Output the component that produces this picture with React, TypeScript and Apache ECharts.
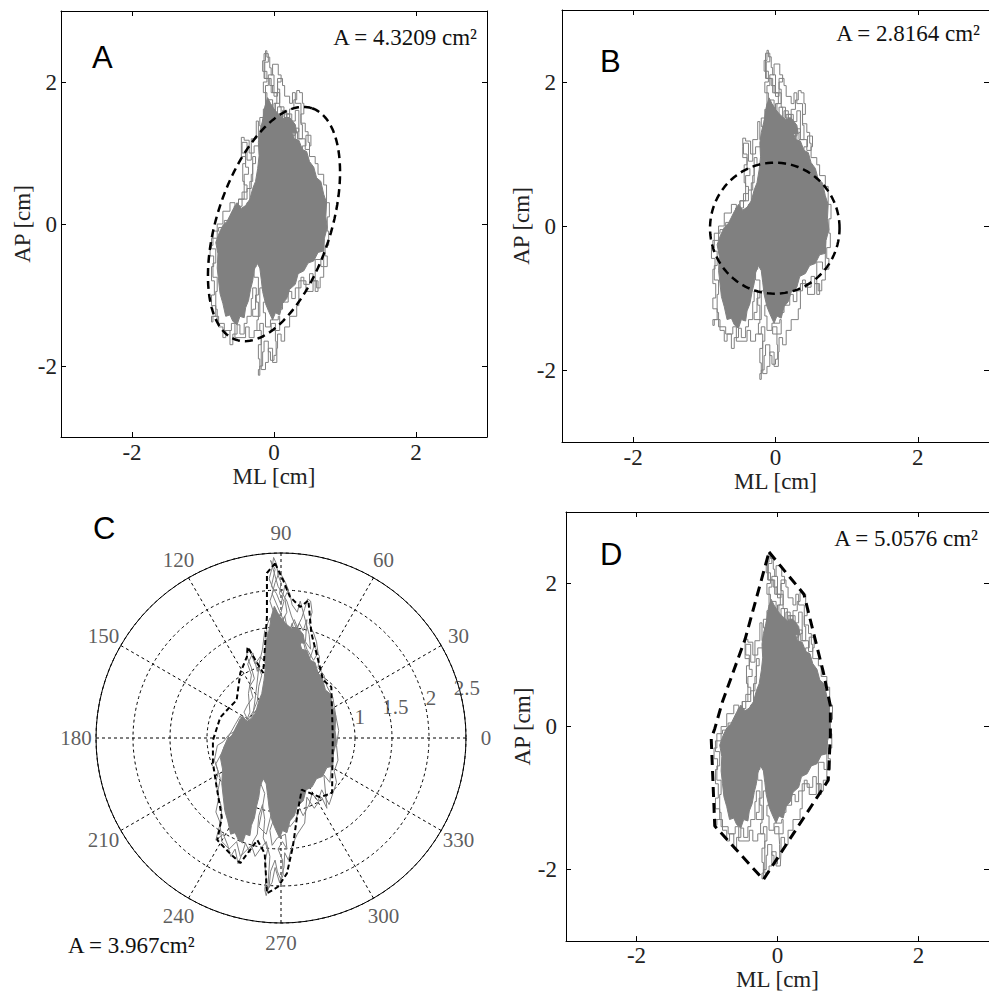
import React, { useEffect, useRef } from 'react';
import * as echarts from 'echarts';

// ---------- data ----------
const tickValues = [-2, 0, 2];
const axisMin = -3;
const axisMax = 3;

// Center-of-pressure trace (ML, AP) in cm
const traceML = [
  0.10, 0.00, -0.05, -0.12, -0.10, -0.15, -0.10, -0.16, -0.12, -0.10, -0.06, -0.04, 0.00, -0.02, 0.04, 0.00, -0.05, -0.15, -0.20, -0.18, -0.10, -0.05, 0.02, 0.08, 0.05, 0.10, 0.06, -0.02, -0.08, -0.12,
  0.05, 0.12, 0.18, 0.22, 0.28, 0.32, 0.36, 0.40, 0.42, 0.38, 0.44, 0.48, 0.50, 0.44, 0.35, 0.30, 0.25, 0.20,
  -0.20, -0.28, -0.35, -0.42, -0.46, -0.46, -0.40, -0.36, -0.42, -0.38, -0.45, -0.50, -0.45, -0.38, -0.32, -0.30, -0.26, -0.30, -0.34, -0.38, -0.48, -0.56, -0.60, -0.70, -0.78, -0.86, -0.90, -0.85,
  -0.88, -0.84, -0.88, -0.82, -0.86, -0.88, -0.78, -0.72, -0.68, -0.62, -0.58, -0.52, -0.48, -0.42, -0.38, -0.32, -0.30, -0.25,
  -0.22, -0.24, -0.18, -0.22, -0.20, -0.22, -0.20, -0.16, -0.14, -0.08, -0.05, 0.00, 0.03, 0.02, -0.04, 0.02, 0.08, 0.06, -0.05, -0.12, -0.15, -0.10,
  0.05, 0.12, 0.20, 0.25, 0.30, 0.38, 0.42, 0.50, 0.55, 0.60, 0.65, 0.70, 0.75, 0.72, 0.77, 0.75, 0.78, 0.74, 0.70, 0.62, 0.58, 0.50, 0.52, 0.45, 0.40,
  0.10, -0.10, -0.25, -0.28, -0.22, -0.26, -0.30, -0.20, -0.10, 0.00, 0.20, 0.40,
  0.30, 0.22, 0.15, 0.10, 0.05, -0.02, -0.08, -0.14, -0.10, -0.16, -0.06, 0.02, 0.12, 0.18, 0.25, 0.30, 0.35, 0.33, 0.40, 0.38, 0.30, 0.26, 0.22, 0.15, 0.12, 0.05, 0.00, -0.06, -0.13, -0.08, -0.14, -0.04, 0.08, 0.14, 0.20, 0.28, 0.35,
  0.55, 0.65, 0.70, 0.66, 0.58, 0.62, 0.55, 0.45, 0.35, 0.32, 0.22, 0.15, 0.10, 0.05, 0.04, -0.02, -0.08, -0.12, -0.18, -0.15, -0.20, -0.28, -0.35, -0.40, -0.55, -0.60, -0.70, -0.80,
  -0.82, -0.80, -0.86, -0.82, -0.88, -0.80, -0.72, -0.62, -0.55, -0.50, -0.42, -0.44, -0.40, -0.45, -0.38, -0.32, -0.25, -0.22, -0.18,
];
const traceAP = [
  0.30, 0.90, 1.30, 1.50, 1.70, 1.85, 2.00, 2.15, 2.30, 2.44, 2.35, 2.20, 2.10, 1.95, 1.85, 1.70, 1.60, 1.62, 1.50, 1.38, 1.30, 1.45, 1.58, 1.70, 1.90, 2.00, 2.10, 2.25, 2.10, 1.95,
  1.55, 1.45, 1.60, 1.50, 1.62, 1.75, 1.88, 1.85, 1.70, 1.55, 1.42, 1.30, 1.15, 1.05, 1.20, 1.35, 1.25, 1.10,
  1.00, 1.10, 1.00, 1.18, 1.22, 1.10, 0.95, 0.80, 0.70, 0.55, 0.45, 0.35, 0.25, 0.35, 0.50, 0.70, 0.85, 0.95, 0.60, 0.30, 0.20, 0.25, 0.10, 0.05, -0.05, -0.10, -0.30, -0.45,
  -0.60, -0.80, -1.00, -1.15, -1.30, -1.38, -1.30, -1.45, -1.60, -1.50, -1.70, -1.55, -1.42, -1.55, -1.40, -1.30, -1.05, -0.90,
  -1.10, -1.35, -1.50, -1.70, -1.90, -2.05, -2.13, -2.00, -1.80, -1.65, -1.80, -1.92, -1.85, -1.65, -1.50, -1.40, -1.50, -1.30, -1.35, -1.45, -1.25, -1.10,
  -1.05, -1.20, -1.10, -0.95, -1.05, -0.90, -0.75, -0.85, -0.70, -0.80, -0.90, -0.75, -0.60, -0.45, -0.30, -0.10, 0.10, 0.30, 0.55, 0.70, 0.85, 0.95, 1.10, 1.25, 1.10,
  0.50, 0.20, -0.20, -0.60, -0.75, -1.00, -1.20, -1.30, -0.90, -0.50, 0.00, 0.30,
  0.90, 1.30, 1.55, 1.40, 1.65, 1.50, 1.75, 1.60, 1.45, 1.30, 1.20, 1.35, 1.25, 1.40, 1.55, 1.45, 1.60, 1.30, 1.20, 1.40, 1.70, 1.85, 1.70, 1.80, 1.95, 2.05, 1.80, 1.95, 2.05, 2.28, 2.40, 2.05, 1.85, 1.65, 1.50, 1.40, 1.10,
  0.80, 0.40, -0.20, -0.60, -0.50, -0.95, -0.80, -0.95, -0.80, -1.15, -1.30, -1.45, -1.65, -1.55, -1.75, -1.95, -1.75, -1.95, -2.05, -1.60, -1.40, -1.50, -1.60, -1.45, -1.60, -1.40, -1.50, -1.40,
  -1.20, -0.95, -0.75, -0.55, -0.35, -0.20, 0.00, 0.18, 0.30, 0.15, 0.35, 0.60, 0.85, 1.00, 1.15, 0.90, 1.20, 1.45, 1.20,
];

// Densely covered part of the trace (both lobes, joined above AP ≈ -0.55)
const coreML = [
  -0.20, -0.15, -0.10, -0.06, 0.00, 0.05, 0.10, 0.16, 0.22, 0.28, 0.35, 0.40, 0.46, 0.50, 0.56, 0.60, 0.66, 0.70, 0.74, 0.73, 0.75, 0.71, 0.70, 0.62, 0.56, 0.48, 0.42, 0.34, 0.30, 0.22, 0.18, 0.12, 0.08, 0.02, -0.02, -0.08, -0.12, -0.16, -0.18, -0.20,
  -0.24, -0.28, -0.30, -0.33, -0.36, -0.40, -0.42, -0.48, -0.52, -0.58, -0.62, -0.68, -0.72, -0.76, -0.78, -0.80, -0.79, -0.82, -0.77, -0.72, -0.66, -0.62, -0.58, -0.52, -0.46, -0.40, -0.34, -0.30, -0.26, -0.23, -0.21, -0.22,
];
const coreAP = [
  1.30, 1.50, 1.42, 1.60, 1.48, 1.55, 1.38, 1.32, 1.40, 1.20, 1.18, 1.05, 1.02, 0.88, 0.80, 0.65, 0.60, 0.42, 0.30, 0.10, -0.05, -0.20, -0.38, -0.40, -0.52, -0.55, -0.66, -0.70, -0.85, -0.92, -1.05, -1.12, -1.28, -1.25, -1.35, -1.22, -1.12, -0.95, -0.78, -0.62,
  -0.55, -0.65, -0.80, -0.92, -1.08, -1.18, -1.32, -1.30, -1.42, -1.37, -1.28, -1.30, -1.12, -0.98, -0.80, -0.62, -0.42, -0.26, -0.12, -0.02, 0.04, 0.12, 0.20, 0.30, 0.22, 0.26, 0.35, 0.50, 0.60, 0.78, 0.96, 1.15,
];
// Moderately dense part below the top spike
const coreTopML = [-0.16, -0.13, -0.09, -0.05, 0.00, 0.06, 0.14, 0.22, 0.30, 0.32, 0.10];
const coreTopAP = [1.45, 1.65, 1.78, 1.70, 1.62, 1.55, 1.48, 1.50, 1.40, 1.28, 1.30];

// Panel A: 95% confidence ellipse
const ellipseCenter = [0.0, 0.0];
const ellipseSemiAxes = [1.716, 0.802];
const ellipseAngleDeg = 71.9;
// Panel B: circle
const circleCenter = [-0.01, -0.03];
const circleRadius = 0.91;
// Panel D: convex hull vertices
const hullML = [-0.12, 0.375, 0.65, 0.75, 0.75, 0.72, -0.20, -0.89, -0.94, -0.89, -0.78, -0.46, -0.12];
const hullAP = [2.44, 1.85, 0.76, 0.29, -0.12, -0.75, -2.14, -1.39, -0.17, -0.03, 0.35, 1.22, 2.44];
// Panel C: polar outline
const polarHullML = [-0.08, 0.03, 0.12, 0.26, 0.37, 0.41, 0.57, 0.68, 0.70, 0.69, 0.53, 0.28, 0.23, 0.16, 0.08, -0.04, -0.19, -0.22, -0.32, -0.55, -0.69, -0.86, -0.80, -0.87, -0.92, -0.92, -0.82, -0.69, -0.60, -0.55, -0.46, -0.45, -0.32, -0.24, -0.19, -0.19, -0.08];
const polarHullAP = [2.36, 2.13, 1.91, 1.77, 1.86, 1.42, 0.78, 0.69, 0.01, -0.74, -0.80, -0.70, -0.97, -1.47, -1.83, -2.01, -2.10, -1.56, -1.38, -1.69, -1.56, -1.38, -1.07, -0.66, -0.34, -0.03, 0.28, 0.42, 0.51, 0.88, 1.10, 1.23, 1.01, 0.88, 1.64, 2.23, 2.36];

const angleTicks = [0, 30, 60, 90, 120, 150, 180, 210, 240, 270, 300, 330];
const radiusTicks = [1, 1.5, 2, 2.5];
const radiusMax = 2.5;

const panelLetters = ['A', 'B', 'C', 'D'];
const areaTexts = ['A = 4.3209 cm²', 'A = 2.8164 cm²', 'A = 3.967cm²', 'A = 5.0576 cm²'];

// ---------- styles ----------
const GRAY = '#808080';
const SERIF = 'Liberation Serif';
const SANS = 'Liberation Sans';

const panels = [
  { left: 61, top: 11, size: 426, xNameGap: 27, yNameGap: 22, yLabelMargin: 4, xLabelMargin: 4 },
  { left: 562, top: 10, size: 432, xNameGap: 27, yNameGap: 27, yLabelMargin: 6, xLabelMargin: 4 },
  { left: 566, top: 512, size: 432, xNameGap: 26, yNameGap: 26, yLabelMargin: 9, xLabelMargin: 3 },
];

const toXY = (xs: number[], ys: number[]) => xs.map((x, i) => [x, ys[i]]);
const toPolar = (xs: number[], ys: number[]) =>
  xs.map((x, i) => [Math.hypot(x, ys[i]), ((Math.atan2(ys[i], x) * 180) / Math.PI + 360) % 360]);

function ellipseOutline(): [number[], number[]] {
  const xs: number[] = [];
  const ys: number[] = [];
  const phi = (ellipseAngleDeg * Math.PI) / 180;
  for (let k = 0; k <= 160; k++) {
    const t = (k / 160) * Math.PI * 2;
    const u = ellipseSemiAxes[0] * Math.cos(t);
    const v = ellipseSemiAxes[1] * Math.sin(t);
    xs.push(ellipseCenter[0] + u * Math.cos(phi) - v * Math.sin(phi));
    ys.push(ellipseCenter[1] + u * Math.sin(phi) + v * Math.cos(phi));
  }
  return [xs, ys];
}
function circleOutline(): [number[], number[]] {
  const xs: number[] = [];
  const ys: number[] = [];
  for (let k = 0; k <= 120; k++) {
    const t = (k / 120) * Math.PI * 2;
    xs.push(circleCenter[0] + circleRadius * Math.cos(t));
    ys.push(circleCenter[1] + circleRadius * Math.sin(t));
  }
  return [xs, ys];
}

function buildOption() {
  const axisText = { fontFamily: SERIF, fontSize: 23, color: '#222' };
  const grid = panels.map((p) => ({ left: p.left, top: p.top, width: p.size, height: p.size, containLabel: false }));
  const xAxis: any[] = [];
  const yAxis: any[] = [];
  const mkAxis = (i: number, pos: string, isX: boolean) => {
    const p = panels[i];
    const main = pos === 'bottom' || pos === 'left';
    return {
      gridIndex: i,
      type: 'value',
      min: axisMin,
      max: axisMax,
      position: pos,
      axisLine: { show: true, onZero: false, lineStyle: { color: '#000', width: 1 } },
      axisTick: { show: true, inside: true, length: 5, customValues: tickValues, lineStyle: { color: '#000', width: 1 } },
      axisLabel: {
        show: main,
        customValues: tickValues,
        margin: isX ? p.xLabelMargin : p.yLabelMargin,
        ...axisText,
      },
      splitLine: { show: false },
      name: main ? (isX ? 'ML [cm]' : 'AP [cm]') : '',
      nameLocation: 'middle',
      nameGap: isX ? p.xNameGap : p.yNameGap,
      nameTextStyle: { ...axisText },
    };
  };
  panels.forEach((_, i) => {
    xAxis.push(mkAxis(i, 'bottom', true));
    yAxis.push(mkAxis(i, 'left', false));
  });
  panels.forEach((_, i) => {
    xAxis.push(mkAxis(i, 'top', true));
    yAxis.push(mkAxis(i, 'right', false));
  });

  const series: any[] = [];
  const [ex, ey] = ellipseOutline();
  const [cx, cy] = circleOutline();
  const shapes = [
    { data: toXY(ex, ey), dash: [8, 5], width: 2.5 },
    { data: toXY(cx, cy), dash: [8, 5], width: 2.5 },
    { data: toXY(hullML, hullAP), dash: [10, 6], width: 3 },
  ];

  const polygonSeries = (xs: number[], ys: number[], coord: any) => ({
    type: 'custom',
    ...coord,
    silent: true,
    data: [[0, 0]],
    renderItem: (_p: any, api: any) => {
      const pts = coord.coordinateSystem === 'polar'
        ? toPolar(xs, ys).map((d) => api.coord(d))
        : xs.map((x, i) => api.coord([x, ys[i]]));
      return { type: 'polygon', shape: { points: pts }, style: { fill: GRAY, stroke: GRAY, lineWidth: 1 } };
    },
  });

  panels.forEach((_, i) => {
    const coord = { coordinateSystem: 'cartesian2d', xAxisIndex: i, yAxisIndex: i };
    series.push(polygonSeries(coreML, coreAP, coord));
    series.push(polygonSeries(coreTopML, coreTopAP, coord));
    series.push({
      type: 'line', ...coord, silent: true, symbol: 'none', showSymbol: false, step: 'start',
      data: toXY(traceML, traceAP),
      lineStyle: { color: GRAY, width: 1 },
    });
    series.push({
      type: 'line', ...coord, silent: true, symbol: 'none', showSymbol: false,
      data: shapes[i].data,
      lineStyle: { color: '#000', width: shapes[i].width, type: shapes[i].dash },
    });
  });

  const pcoord = { coordinateSystem: 'polar', polarIndex: 0 };
  series.push(polygonSeries(coreML, coreAP, pcoord));
  series.push(polygonSeries(coreTopML, coreTopAP, pcoord));
  series.push({
    type: 'line', ...pcoord, silent: true, symbol: 'none', showSymbol: false,
    data: toPolar(traceML, traceAP),
    lineStyle: { color: GRAY, width: 1 },
  });
  series.push({
    type: 'line', ...pcoord, silent: true, symbol: 'none', showSymbol: false,
    data: toPolar(polarHullML, polarHullAP),
    lineStyle: { color: '#000', width: 2, type: [5, 3] },
  });
  series.push({
    type: 'scatter', ...pcoord, silent: true, clip: false, symbolSize: 0,
    data: angleTicks.map((a) => [radiusMax * 1.108, a]),
    label: {
      show: true, position: 'inside', formatter: (p: any) => String(p.data[1]),
      fontFamily: SERIF, fontSize: 21, color: '#333',
    },
  });
  series.push({
    type: 'scatter', ...pcoord, silent: true, clip: false, symbolSize: 0,
    data: radiusTicks.map((r) => [r + 0.1, 15]),
    label: {
      show: true, position: 'inside', formatter: (p: any) => String(radiusTicks[p.dataIndex]),
      fontFamily: SERIF, fontSize: 21, color: '#333',
    },
  });

  const letterPos = [[92, 57], [600, 61], [93, 528], [600, 554]];
  const areaPos = [[477, 37, 'right'], [980, 33, 'right'], [68, 945, 'left'], [978, 538, 'right']];
  const graphic: any[] = [];
  panelLetters.forEach((t, i) => {
    graphic.push({
      type: 'text', x: letterPos[i][0], y: letterPos[i][1], silent: true,
      style: { text: t, fontFamily: SANS, fontSize: 31, fill: '#000', textAlign: 'left', align: 'left', textVerticalAlign: 'middle', verticalAlign: 'middle' },
    });
  });
  areaTexts.forEach((t, i) => {
    const [x, y, al] = areaPos[i] as [number, number, string];
    graphic.push({
      type: 'text', x, y, silent: true,
      style: { text: t, fontFamily: SERIF, fontSize: 23, fill: '#111', textAlign: al, align: al, textVerticalAlign: 'middle', verticalAlign: 'middle' },
    });
  });

  return {
    animation: false,
    backgroundColor: '#fff',
    textStyle: { fontFamily: SERIF },
    grid,
    xAxis,
    yAxis,
    polar: { center: [281, 738], radius: 185 },
    angleAxis: {
      polarIndex: 0, type: 'value', min: 0, max: 360, interval: 30, startAngle: 0, clockwise: false,
      axisLine: { show: true, lineStyle: { color: '#000', width: 1 } },
      axisTick: { show: false },
      axisLabel: { show: false },
      splitLine: { show: true, lineStyle: { color: '#000', width: 1, type: [3, 3] } },
    },
    radiusAxis: {
      polarIndex: 0, type: 'value', min: 0, max: radiusMax, interval: 0.5,
      axisLine: { show: false },
      axisTick: { show: false },
      axisLabel: { show: false },
      splitLine: { show: true, lineStyle: { color: '#000', width: 1, type: [3, 3] } },
    },
    series,
    graphic,
  };
}

export default function App() {
  const ref = useRef<HTMLDivElement>(null);
  useEffect(() => {
    const chart = echarts.init(ref.current!, null, { renderer: 'svg' });
    chart.setOption(buildOption() as any);
    return () => chart.dispose();
  }, []);
  return <div ref={ref} style={{ position: 'absolute', left: 0, top: 0, width: 989, height: 992 }} />;
}
